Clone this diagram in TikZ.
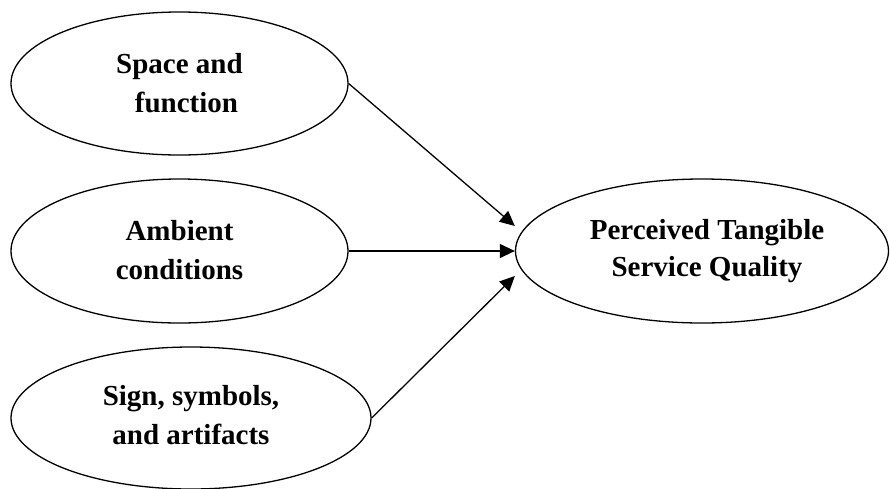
\documentclass[tikz,border=0pt]{standalone}
\usepackage{fontspec}
\setmainfont{Liberation Serif}
\usetikzlibrary{shapes.geometric,arrows.meta}
\begin{document}
\begin{tikzpicture}[x=1pt,y=-1pt,
  ell/.style={draw=black,line width=1.3pt,ellipse,inner sep=0pt},
  txt/.style={align=center,inner sep=0pt,font=\bfseries\fontsize{29}{39}\selectfont},
  txtr/.style={align=center,inner sep=0pt,font=\bfseries\fontsize{29}{37}\selectfont},
  conn/.style={draw=black,line width=1.3pt,-{Triangle[length=15pt,width=14pt]}}]
\useasboundingbox (0,0) rectangle (890,488);
\node[ell,minimum width=337pt,minimum height=143pt] (e1) at (179.5,83.5) {};
\node[ell,minimum width=337pt,minimum height=144pt] (e2) at (179.5,251) {};
\node[ell,minimum width=360pt,minimum height=142pt] (e3) at (191,418) {};
\node[ell,minimum width=373pt,minimum height=144pt] (e4) at (702,251) {};
\node[txt] (t1) at (179.5,83.5) {Space and\\\hspace*{14pt}function};
\node[txt] (t2) at (179.5,250.5) {Ambient\\conditions};
\node[txt] (t3) at (191,415) {Sign, symbols,\\and artifacts};
\node[txtr] (t4) at (707,251) {Perceived Tangible\\Service Quality};
\coordinate (p1) at ([yshift=25pt]e4.west);
\coordinate (p3) at ([yshift=-25pt]e4.west);
\draw[conn] (e1.east) -- (p1);
\draw[conn] (e2.east) -- (e4.west);
\draw[conn] (e3.east) -- (p3);
\end{tikzpicture}
\end{document}
